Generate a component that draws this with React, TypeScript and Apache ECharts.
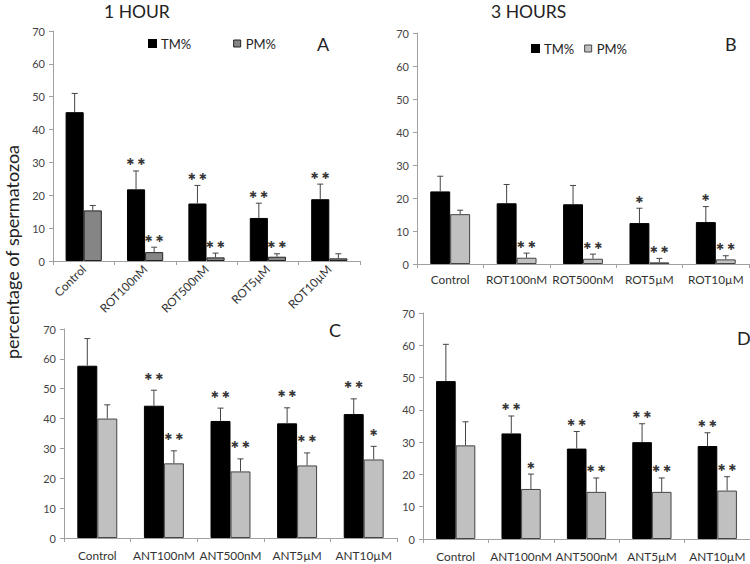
import React, { useEffect, useRef } from "react";
import * as echarts from "echarts";

const catsROT = ["Control", "ROT100nM", "ROT500nM", "ROT5µM", "ROT10µM"];
const catsANT = ["Control", "ANT100nM", "ANT500nM", "ANT5µM", "ANT10µM"];

// Panel A: 1 hour, rotenone
const tmA = [45.3, 21.8, 17.5, 13.1, 18.8];
const tmSdA = [5.7, 5.6, 5.5, 4.5, 4.6];
const pmA = [15.4, 2.7, 1.1, 1.3, 0.8];
const pmSdA = [1.5, 1.5, 1.3, 0.9, 1.4];
const tmStarA = ["", "**", "**", "**", "**"];
const pmStarA = ["", "**", "**", "**", ""];

// Panel B: 3 hours, rotenone
const tmB = [22.0, 18.4, 18.1, 12.4, 12.7];
const tmSdB = [4.6, 5.7, 5.7, 4.5, 4.7];
const pmB = [15.1, 1.9, 1.6, 0.5, 1.4];
const pmSdB = [1.2, 1.4, 1.4, 1.2, 1.1];
const tmStarB = ["", "", "", "*", "*"];
const pmStarB = ["", "**", "**", "**", "**"];

// Panel C: 1 hour, antimycin
const tmC = [57.7, 44.3, 39.2, 38.4, 41.5];
const tmSdC = [9.1, 5.2, 4.3, 5.2, 5.1];
const pmC = [40.0, 25.0, 22.3, 24.3, 26.3];
const pmSdC = [4.6, 4.2, 4.2, 4.2, 4.4];
const tmStarC = ["", "**", "**", "**", "**"];
const pmStarC = ["", "**", "**", "**", "*"];

// Panel D: 3 hours, antimycin
const tmD = [48.9, 32.7, 28.0, 30.0, 28.8];
const tmSdD = [11.4, 5.4, 5.3, 5.7, 4.1];
const pmD = [29.0, 15.5, 14.6, 14.6, 15.0];
const pmSdD = [7.3, 4.6, 4.3, 4.3, 4.3];
const tmStarD = ["", "**", "**", "**", "**"];
const pmStarD = ["", "*", "**", "**", "**"];

const yTicks = { min: 0, max: 70, interval: 10 };

const FONT = "Lato, 'Open Sans', sans-serif";

export default function App() {
  const ref = useRef<HTMLDivElement>(null);
  useEffect(() => {
    if (!ref.current) return;
    const chart = echarts.init(ref.current, null, { renderer: "svg" });

    const panels = [
      { cats: catsROT, tm: tmA, tmSd: tmSdA, pm: pmA, pmSd: pmSdA, tmS: tmStarA, pmS: pmStarA, gap: 0.41, pmColor: "#858585", pmBorder: "#222", rotate: 45, labelMargin: 6, starOff: 9, grid: { left: 53, top: 31, width: 307, height: 230 } },
      { cats: catsROT, tm: tmB, tmSd: tmSdB, pm: pmB, pmSd: pmSdB, tmS: tmStarB, pmS: pmStarB, gap: 0.4, pmColor: "#c0c0c0", pmBorder: "#444", rotate: 0, labelMargin: 9, starOff: 9, grid: { left: 417, top: 33, width: 332, height: 231 } },
      { cats: catsANT, tm: tmC, tmSd: tmSdC, pm: pmC, pmSd: pmSdC, tmS: tmStarC, pmS: pmStarC, gap: 0.4, pmColor: "#c0c0c0", pmBorder: "#444", rotate: 0, labelMargin: 11, starOff: 14, grid: { left: 64, top: 329, width: 333, height: 209 } },
      { cats: catsANT, tm: tmD, tmSd: tmSdD, pm: pmD, pmSd: pmSdD, tmS: tmStarD, pmS: pmStarD, gap: 0.4, pmColor: "#c0c0c0", pmBorder: "#444", rotate: 0, labelMargin: 11, starOff: 9, grid: { left: 423, top: 313, width: 327, height: 226 } },
    ];

    const grids: any[] = [];
    const xAxes: any[] = [];
    const yAxes: any[] = [];
    const series: any[] = [];

    const errRender = (gap: number, side: number, stars: string[], starOff: number) =>
      (params: any, api: any) => {
        const i = api.value(0);
        const m = api.value(1);
        const sd = api.value(2);
        const band = api.size([1, 0])[0];
        const barW = (band * (1 - gap)) / 2;
        const cx = api.coord([i, 0])[0] + (side * barW) / 2;
        const y0 = api.coord([i, m])[1];
        const y1 = api.coord([i, m + sd])[1];
        const star = stars[params.dataIndex];
        const children: any[] = [
          { type: "line", shape: { x1: cx, y1: y0, x2: cx, y2: y1 }, style: { stroke: "#444", lineWidth: 1 } },
          { type: "line", shape: { x1: cx - 3, y1: y1, x2: cx + 3, y2: y1 }, style: { stroke: "#444", lineWidth: 1 } },
        ];
        if (star) {
          children.push({
            type: "text",
            x: cx,
            y: y1 - starOff,
            style: {
              text: star.replace(/\*/g, "✱").split("").join(" "),
              fontSize: 9.5,
              fontFamily: "'DejaVu Sans', sans-serif",
              fill: "#3a3a3a",
              align: "center",
              verticalAlign: "middle",
            },
          });
        }
        return { type: "group", children };
      };

    panels.forEach((p, k) => {
      grids.push({ ...p.grid, containLabel: false });
      xAxes.push({
        type: "category",
        gridIndex: k,
        data: p.cats,
        axisLine: { lineStyle: { color: "#a0a0a0" } },
        axisTick: { show: true, length: 4, lineStyle: { color: "#a0a0a0" } },
        axisLabel: { color: "#333", fontSize: 11.8, fontFamily: FONT, rotate: p.rotate, margin: p.labelMargin, interval: 0 },
      });
      yAxes.push({
        type: "value",
        gridIndex: k,
        ...yTicks,
        axisLine: { show: true, lineStyle: { color: "#a0a0a0" } },
        axisTick: { show: true, length: 4, lineStyle: { color: "#a0a0a0" } },
        axisLabel: { color: "#444", fontSize: 11, fontFamily: FONT, margin: 8 },
        splitLine: { show: false },
      });
      series.push({
        type: "bar",
        name: "TM%",
        xAxisIndex: k,
        yAxisIndex: k,
        data: p.tm,
        barGap: "0%",
        barCategoryGap: `${p.gap * 100}%`,
        itemStyle: { color: "#000", borderColor: "#000", borderWidth: 1 },
      });
      series.push({
        type: "bar",
        name: "PM%",
        xAxisIndex: k,
        yAxisIndex: k,
        data: p.pm,
        barGap: "0%",
        barCategoryGap: `${p.gap * 100}%`,
        itemStyle: { color: p.pmColor, borderColor: p.pmBorder, borderWidth: 1 },
      });
      series.push({
        type: "custom",
        xAxisIndex: k,
        yAxisIndex: k,
        clip: false,
        z: 5,
        data: p.tm.map((v, i) => [i, v, p.tmSd[i]]),
        renderItem: errRender(p.gap, -1, p.tmS, p.starOff),
      });
      series.push({
        type: "custom",
        xAxisIndex: k,
        yAxisIndex: k,
        clip: false,
        z: 5,
        data: p.pm.map((v, i) => [i, v, p.pmSd[i]]),
        renderItem: errRender(p.gap, 1, p.pmS, p.starOff),
      });
    });

    const titleStyle = { color: "#222", fontSize: 17.5, fontWeight: "normal", fontFamily: FONT };
    const letterStyle = { color: "#222", fontSize: 18, fontWeight: "normal", fontFamily: FONT };

    chart.setOption({
      animation: false,
      backgroundColor: "#fff",
      title: [
        { text: "1 HOUR", left: 99, top: -3, textStyle: titleStyle },
        { text: "3 HOURS", left: 486, top: -3, textStyle: titleStyle },
        { text: "A", left: 312, top: 30, textStyle: letterStyle },
        { text: "B", left: 720, top: 30, textStyle: letterStyle },
        { text: "C", left: 324, top: 316, textStyle: letterStyle },
        { text: "D", left: 732, top: 324, textStyle: letterStyle },
      ],
      legend: [
        {
          left: 143,
          top: 32,
          itemWidth: 7,
          itemHeight: 7,
          itemGap: 42,
          icon: "rect",
          textStyle: { color: "#222", fontSize: 13, fontFamily: FONT },
          data: [
            { name: "TM%", itemStyle: { color: "#000", borderColor: "#000" } },
            { name: "PM%", itemStyle: { color: "#858585", borderColor: "#222", borderWidth: 1 } },
          ],
          selectedMode: false,
        },
        {
          left: 526,
          top: 37,
          itemWidth: 7,
          itemHeight: 7,
          itemGap: 10,
          icon: "rect",
          textStyle: { color: "#222", fontSize: 13, fontFamily: FONT },
          data: [
            { name: "TM%", itemStyle: { color: "#000", borderColor: "#000" } },
            { name: "PM%", itemStyle: { color: "#c0c0c0", borderColor: "#444", borderWidth: 1 } },
          ],
          selectedMode: false,
        },
      ],
      graphic: [
        {
          type: "text",
          x: 3,
          y: 252,
          rotation: Math.PI / 2,
          style: {
            text: "percentage of spermatozoa",
            fontSize: 18,
            fontFamily: FONT,
            fill: "#222",
            align: "center",
            verticalAlign: "top",
          },
        },
      ],
      grid: grids,
      xAxis: xAxes,
      yAxis: yAxes,
      series,
    });
    return () => chart.dispose();
  }, []);
  return <div ref={ref} style={{ position: "fixed", left: 0, top: 0, width: 750, height: 564 }} />;
}
